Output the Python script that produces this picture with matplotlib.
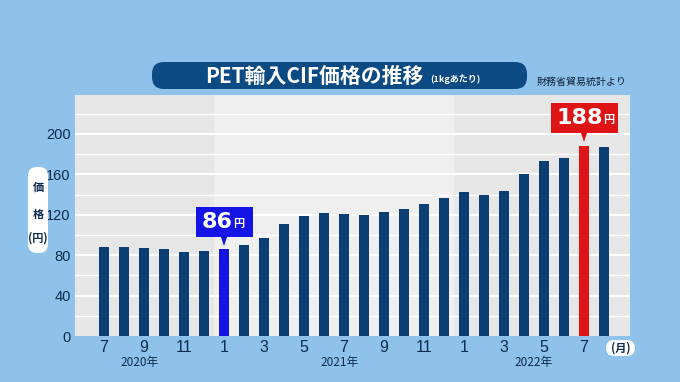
import matplotlib
matplotlib.use("Agg")
import matplotlib.pyplot as plt
from matplotlib.patches import FancyBboxPatch, Rectangle, Polygon
from matplotlib.transforms import Affine2D

plt.rcParams['font.family'] = ['Noto Sans CJK JP', 'DejaVu Sans']

# monthly PET import CIF price (yen per kg), Jul 2020 - Aug 2022
prices = [88, 88, 87, 86, 83, 84, 86, 90, 97, 111, 119, 122, 121,
          120, 123, 126, 131, 137, 143, 140, 144, 160, 173, 176, 188, 187]
month_labels = ['7', '', '9', '', '11', '', '1', '', '3', '', '5', '', '7',
                '', '9', '', '11', '', '1', '', '3', '', '5', '', '7', '']
year_labels = ['2020年', '2021年', '2022年']
year_pos = [1.8, 11.8, 21.5]
hi_low = 6     # Jan 2021
hi_high = 24   # Jul 2022

W, H = 680, 382
bg = '#8fc2ea'
navy = '#0b3f74'
txt = '#0d2a4e'

fig = plt.figure(figsize=(W / 100, H / 100), dpi=100, facecolor=bg)
# pixel coordinates (origin top-left) -> figure
px = Affine2D().scale(1, -1).translate(0, H).scale(1 / W, 1 / H) + fig.transFigure

ax = fig.add_axes([75 / W, (H - 336) / H, (630 - 75) / W, (336 - 95) / H])
ax.set_xlim(-1.45, len(prices) - 1 + 1.3)
ax.set_ylim(0, 238.6)
ax.set_facecolor('#efefef')

# shaded year sections
ax.axvspan(-1.45, 5.5, color='#e6e6e6', zorder=0, lw=0)
ax.axvspan(17.5, len(prices) + 1, color='#e6e6e6', zorder=0, lw=0)
for g in range(20, 240, 20):
    ax.axhline(g, color='white', lw=1.6 if g % 40 == 0 else 1.0, zorder=1)

colors = [navy] * len(prices)
colors[hi_low] = '#1414e6'
colors[hi_high] = '#e01414'
ax.bar(range(len(prices)), prices, width=0.5, color=colors, zorder=2)

for s in ax.spines.values():
    s.set_visible(False)
ax.tick_params(length=0)
ax.set_yticks(range(0, 201, 40))
ax.set_yticklabels([str(v) for v in range(0, 201, 40)], fontsize=10.5, color=txt,
                   family='Liberation Sans')
ax.tick_params(axis='y', pad=3)
ax.set_xticks(range(len(prices)))
ax.set_xticklabels(month_labels, fontsize=11.5, color=txt, family='Liberation Sans')
ax.tick_params(axis='x', pad=3)
for lab, xp in zip(year_labels, year_pos):
    ax.text(xp, -26, lab, ha='center', va='center', fontsize=8.5, color=txt)

# callouts
def callout(i, x0, x1, y0, y1, num, color, split):
    ax.add_patch(Rectangle((x0, y0), x1 - x0, y1 - y0, color=color, zorder=4, lw=0))
    ax.add_patch(Polygon([(i - 0.16, y0 + 0.5), (i + 0.16, y0 + 0.5), (i, y0 - 9)],
                         closed=True, color=color, zorder=4, lw=0))
    ym = (y0 + y1) / 2
    ax.text(split, ym, num, ha='right', va='center', fontsize=16, color='white',
            fontweight='bold', zorder=5, family='DejaVu Sans')
    ax.text(split + 0.03, ym - 1.5, '円', ha='left', va='center', fontsize=8,
            color='white', fontweight='bold', zorder=5)

callout(hi_low, hi_low - 1.4, hi_low + 1.45, 98, 128, str(prices[hi_low]),
        '#1414e6', hi_low + 0.45)
callout(hi_high, hi_high - 1.65, hi_high + 1.7, 201, 231, str(prices[hi_high]),
        '#e01414', hi_high + 0.95)

# title bar
fig.patches.append(FancyBboxPatch((152, 62), 375, 27, boxstyle='round,pad=0,rounding_size=12',
                                  transform=px, facecolor='#0b4a82', edgecolor='none'))
fig.text(205 / W, 1 - 76 / H, 'PET輸入CIF価格の推移', transform=fig.transFigure,
         ha='left', va='center', fontsize=15, color='white', fontweight='bold')
fig.text(430 / W, 1 - 79 / H, '(1kgあたり)', ha='left', va='center', fontsize=6.5,
         color='white', fontweight='bold')
fig.text(537 / W, 1 - 82 / H, '財務省貿易統計より', ha='left', va='center',
         fontsize=7.2, color='#10203a')

# y label pill
fig.patches.append(FancyBboxPatch((28, 167), 20, 86, boxstyle='round,pad=0,rounding_size=9',
                                  transform=px, facecolor='white', edgecolor='none'))
for t, yy in [('価', 187), ('格', 214), ('(円)', 238)]:
    fig.text(38 / W, 1 - yy / H, t, ha='center', va='center', fontsize=8,
             color=txt, fontweight='bold')

# month unit pill
fig.patches.append(FancyBboxPatch((606, 340), 29, 16, boxstyle='round,pad=0,rounding_size=8',
                                  transform=px, facecolor='white', edgecolor='none'))
fig.text(620.5 / W, 1 - 348 / H, '(月)', ha='center', va='center', fontsize=8,
         color=txt, fontweight='bold')

fig.savefig('out.png', dpi=100, facecolor=bg)
